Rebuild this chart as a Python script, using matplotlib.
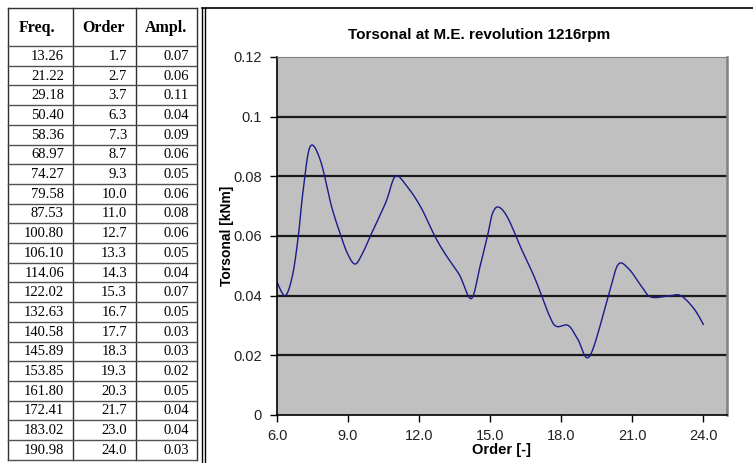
import numpy as np
import matplotlib
matplotlib.use("Agg")
import matplotlib.pyplot as plt

# table on the left
freq = [13.26, 21.22, 29.18, 50.40, 58.36, 68.97, 74.27, 79.58, 87.53, 100.80, 106.10,
        114.06, 122.02, 132.63, 140.58, 145.89, 153.85, 161.80, 172.41, 183.02, 190.98]
order = [1.7, 2.7, 3.7, 6.3, 7.3, 8.7, 9.3, 10.0, 11.0, 12.7, 13.3,
         14.3, 15.3, 16.7, 17.7, 18.3, 19.3, 20.3, 21.7, 23.0, 24.0]
ampl = [0.07, 0.06, 0.11, 0.04, 0.09, 0.06, 0.05, 0.06, 0.08, 0.06, 0.05,
        0.04, 0.07, 0.05, 0.03, 0.03, 0.02, 0.05, 0.04, 0.04, 0.03]
headers = ["Freq.", "Order", "Ampl."]

# curve
curve_x = [6.0, 6.35, 6.66, 6.9, 7.1, 7.4, 7.83, 8.3, 8.7, 9.0, 9.3, 9.6, 10.0, 10.6, 11.0,
           11.5, 12.07, 12.66, 13.1, 13.7, 14.2, 14.56, 14.9, 15.1, 15.36, 15.75, 16.3,
           16.9, 17.5, 17.8, 18.3, 18.7, 19.2, 20.0, 20.4, 20.85, 21.4, 21.8, 22.6, 23.05,
           23.6, 24.0]
curve_y = [0.0445, 0.040, 0.047, 0.060, 0.075, 0.090, 0.0854, 0.070, 0.060, 0.0537, 0.0506,
           0.054, 0.061, 0.0714, 0.080, 0.0765, 0.0697, 0.060, 0.054, 0.047, 0.039, 0.0494,
           0.0605, 0.0676, 0.0697, 0.066, 0.056, 0.0456, 0.0333, 0.0297, 0.030, 0.0254,
           0.0197, 0.0401, 0.0504, 0.049, 0.043, 0.0395, 0.040, 0.040, 0.0357, 0.0304]


def smooth(xs, ys, n=12):
    # excel style smoothed line (bezier through the points)
    p = np.column_stack([xs, ys])
    p = np.vstack([p[0], p, p[-1]])
    out = []
    for i in range(1, len(p) - 2):
        p0, p1, p2, p3 = p[i - 1], p[i], p[i + 1], p[i + 2]
        c1 = p1 + (p2 - p0) / 6
        c2 = p2 - (p3 - p1) / 6
        t = np.linspace(0, 1, n, endpoint=False)[:, None]
        out.append((1 - t) ** 3 * p1 + 3 * (1 - t) ** 2 * t * c1 + 3 * (1 - t) * t ** 2 * c2 + t ** 3 * p2)
    out.append(p[-2][None, :])
    out = np.vstack(out)
    return out[:, 0], out[:, 1]


W, H = 753, 463
fig = plt.figure(figsize=(W / 100, H / 100), dpi=100)

# pixel overlay for table and frame
bg = fig.add_axes([0, 0, 1, 1])
bg.set_xlim(0, W)
bg.set_ylim(H, 0)
bg.axis("off")

col_x = [8, 73, 136, 197]
row0 = 46
rh = 19.7
nrows = len(freq)
bottom = row0 + nrows * rh
for cx in col_x:
    bg.plot([cx, cx], [8, bottom], color="#303030", lw=1)
bg.plot([8, 197], [8, 8], color="#303030", lw=1)
for i in range(nrows + 1):
    bg.plot([8, 197], [row0 + i * rh] * 2, color="#505050", lw=1)

serif = "Liberation Serif"
hdr_x = [37, 104, 166]
for hx, h in zip(hdr_x, headers):
    bg.text(hx, 28, h, ha="center", va="center", family=serif, weight="bold", fontsize=11.5)
right_x = [64, 127, 189]
for i in range(nrows):
    yc = row0 + (i + 0.5) * rh + 0.5
    vals = [f"{freq[i]:.2f}", f"{order[i]:.1f}", f"{ampl[i]:.2f}"]
    for rx, v in zip(right_x, vals):
        bg.text(rx, yc, v, ha="right", va="center", family=serif, fontsize=10.5)

# chart frame (double line on the left, line on top)
bg.plot([202.5, 202.5], [8, H], color="black", lw=1)
bg.plot([205.5, 205.5], [8, H], color="black", lw=1)
bg.plot([202.5, W], [8, 8], color="black", lw=1.2)

# chart
ax = fig.add_axes([277 / W, 1 - 415 / H, (727 - 277) / W, (415 - 57) / H])
ax.set_facecolor("#C0C0C0")
sx, sy = smooth(curve_x, curve_y)
ax.plot(sx, sy, color="#1a1a8c", lw=1)

ax.set_xlim(6, 25)
ax.set_ylim(0, 0.12)
yt = [0, 0.02, 0.04, 0.06, 0.08, 0.1, 0.12]
ax.set_yticks(yt)
ax.set_yticklabels(["0", "0.02", "0.04", "0.06", "0.08", "0.1", "0.12"])
xt = [6, 9, 12, 15, 18, 21, 24]
ax.set_xticks(xt)
ax.set_xticklabels([f"{v:.1f}" for v in xt])
for v in yt[1:-1]:
    ax.axhline(v, color="#1a1a1a", lw=1.6, zorder=1)

ax.tick_params(axis="both", direction="out", length=5, width=1, colors="black",
               labelsize=10.5, labelcolor="#222222")
ax.tick_params(axis="y", pad=6)
ax.tick_params(axis="x", pad=5)
for lab in ax.get_xticklabels() + ax.get_yticklabels():
    lab.set_family("Liberation Sans")
ax.spines["left"].set_color("black")
ax.spines["bottom"].set_color("black")
ax.spines["left"].set_linewidth(1.2)
ax.spines["bottom"].set_linewidth(1.2)
ax.spines["top"].set_color("#808080")
ax.spines["right"].set_color("#808080")
ax.spines["right"].set_linewidth(1.8)

ax.set_xlabel("Order [-]", family="Liberation Sans", weight="bold", fontsize=10.5, labelpad=0)
ax.set_ylabel("Torsonal [kNm]", family="Liberation Sans", weight="bold", fontsize=10, labelpad=-1)
fig.text(479 / W, 1 - 35 / H, "Torsonal at M.E. revolution 1216rpm", ha="center", va="center",
         family="Liberation Sans", weight="bold", fontsize=11)

fig.savefig("out.png", dpi=100)
